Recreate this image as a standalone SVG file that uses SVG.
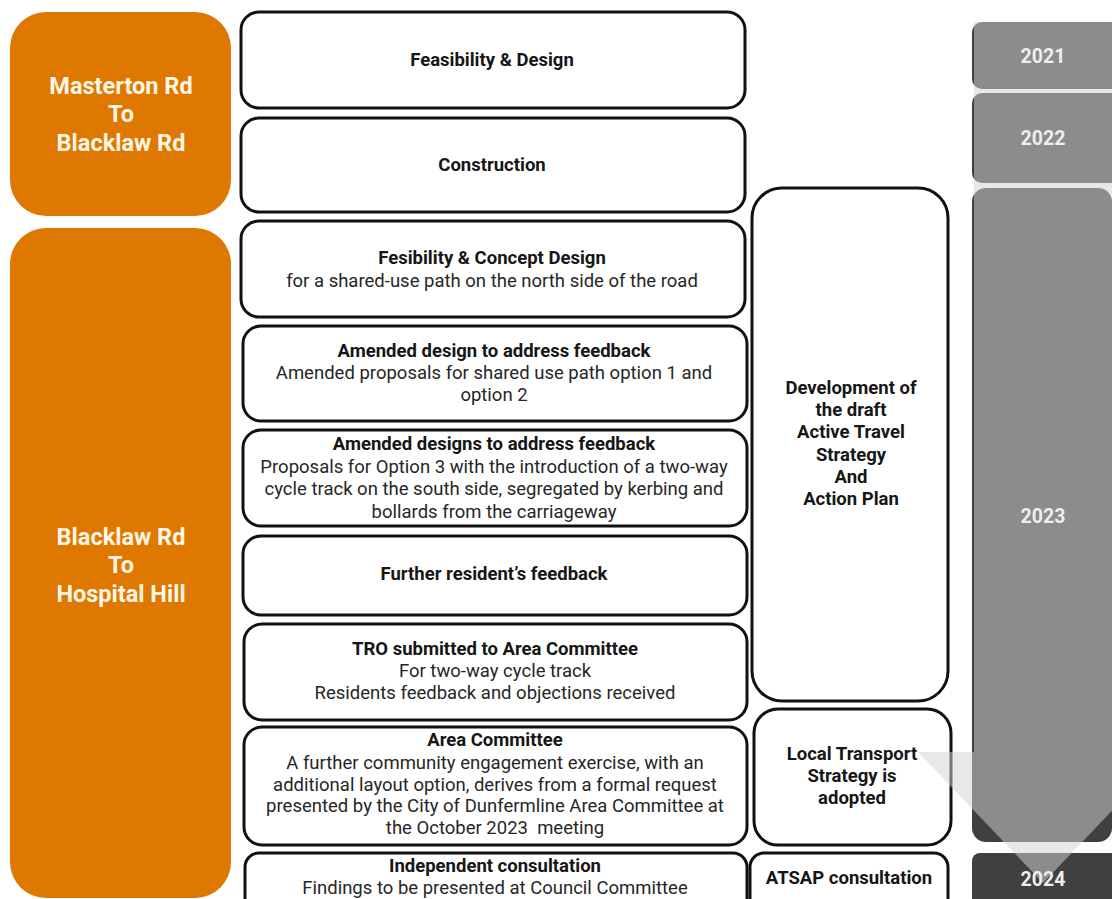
<svg xmlns="http://www.w3.org/2000/svg" width="1112" height="899" viewBox="0 0 1112 899">
<style>
.box{fill:#ffffff;stroke:#111111;stroke-width:3}
.org{fill:#df7800}
.yr{fill:#404040}
.t{font-family:Roboto,"Liberation Sans",sans-serif;font-size:18.5px;text-anchor:middle;fill:#262626;white-space:pre}
.b{font-weight:bold;fill:#161616}
.ot{font-family:Roboto,"Liberation Sans",sans-serif;font-size:23.5px;font-weight:bold;text-anchor:middle;fill:#fff6e6}
.yt{font-family:Roboto,"Liberation Sans",sans-serif;font-size:19.5px;font-weight:bold;text-anchor:middle;fill:#eeeeee}
</style>
<rect width="1112" height="899" fill="#ffffff"/>

<g id="section1">
  <rect class="org" x="10" y="12" width="221" height="204" rx="36"/>
  <text class="ot" x="121" y="94">Masterton Rd</text>
  <text class="ot" x="121" y="122">To</text>
  <text class="ot" x="121" y="151">Blacklaw Rd</text>
</g>
<g id="section2">
  <rect class="org" x="10" y="228" width="221" height="670" rx="36"/>
  <text class="ot" x="121" y="545">Blacklaw Rd</text>
  <text class="ot" x="121" y="573">To</text>
  <text class="ot" x="121" y="602">Hospital Hill</text>
</g>

<g id="n1">
  <rect class="box" x="241" y="12" width="504" height="96" rx="18"/>
  <text class="t b" x="492" y="66">Feasibility &amp; Design</text>
</g>
<g id="n2">
  <rect class="box" x="241" y="118" width="504" height="94" rx="18"/>
  <text class="t b" x="492" y="171">Construction</text>
</g>
<g id="n3">
  <rect class="box" x="241" y="221" width="504" height="96" rx="18"/>
  <text class="t b" x="492" y="264">Fesibility &amp; Concept Design</text>
  <text class="t" x="492" y="287">for a shared-use path on the north side of the road</text>
</g>
<g id="n4">
  <rect class="box" x="243" y="326" width="504" height="95" rx="18"/>
  <text class="t b" x="494" y="357">Amended design to address feedback</text>
  <text class="t" x="494" y="379">Amended proposals for shared use path option 1 and</text>
  <text class="t" x="494" y="401">option 2</text>
</g>
<g id="n5">
  <rect class="box" x="243" y="430" width="504" height="96" rx="18"/>
  <text class="t b" x="494" y="450">Amended designs to address feedback</text>
  <text class="t" x="494" y="473">Proposals for Option 3 with the introduction of a two-way</text>
  <text class="t" x="494" y="495">cycle track on the south side, segregated by kerbing and</text>
  <text class="t" x="494" y="518">bollards from the carriageway</text>
</g>
<g id="n6">
  <rect class="box" x="243" y="536" width="504" height="79" rx="18"/>
  <text class="t b" x="494" y="580">Further resident’s feedback</text>
</g>
<g id="n7">
  <rect class="box" x="244" y="624" width="503" height="96" rx="18"/>
  <text class="t b" x="495" y="655">TRO submitted to Area Committee</text>
  <text class="t" x="495" y="677">For two-way cycle track</text>
  <text class="t" x="495" y="699">Residents feedback and objections received</text>
</g>
<g id="n8">
  <rect class="box" x="244" y="727" width="503" height="118" rx="18"/>
  <text class="t b" x="495" y="746">Area Committee</text>
  <text class="t" x="495" y="769">A further community engagement exercise, with an</text>
  <text class="t" x="495" y="791">additional layout option, derives from a formal request</text>
  <text class="t" x="495" y="812">presented by the City of Dunfermline Area Committee at</text>
  <text class="t" x="495" y="834" xml:space="preserve">the October 2023  meeting</text>
</g>
<g id="n9">
  <rect class="box" x="245" y="853" width="502" height="60" rx="14"/>
  <text class="t b" x="495" y="872">Independent consultation</text>
  <text class="t" x="495" y="894">Findings to be presented at Council Committee</text>
</g>

<g id="dev">
  <rect class="box" x="752" y="188" width="196" height="513" rx="30"/>
  <text class="t b" x="851" y="394">Development of</text>
  <text class="t b" x="851" y="416">the draft</text>
  <text class="t b" x="851" y="438">Active Travel</text>
  <text class="t b" x="851" y="461">Strategy</text>
  <text class="t b" x="851" y="483">And</text>
  <text class="t b" x="851" y="505">Action Plan</text>
</g>
<g id="lts">
  <rect class="box" x="754" y="709" width="197" height="136" rx="24"/>
  <text class="t b" x="852" y="760">Local Transport</text>
  <text class="t b" x="852" y="782">Strategy is</text>
  <text class="t b" x="852" y="804">adopted</text>
</g>
<g id="atsap">
  <rect class="box" x="750" y="853" width="198" height="60" rx="14"/>
  <text class="t b" x="849" y="884">ATSAP consultation</text>
</g>

<g id="timeline">
  <rect class="yr" x="972" y="22" width="150" height="67" rx="10"/>
  <rect class="yr" x="972" y="93" width="150" height="90" rx="10"/>
  <rect class="yr" x="972" y="188" width="140" height="654" rx="14"/>
  <rect class="yr" x="972" y="853" width="150" height="60" rx="8"/>
  <polygon points="974,22 1112,22 1112,752 1168,752 1043,883 918,752 974,752" fill="#d2d2d2" fill-opacity="0.52"/>
  <text class="yt" x="1043" y="63">2021</text>
  <text class="yt" x="1043" y="145">2022</text>
  <text class="yt" x="1043" y="523">2023</text>
  <text class="yt" x="1043" y="886">2024</text>
</g>
<g id="connectors"></g>
</svg>
